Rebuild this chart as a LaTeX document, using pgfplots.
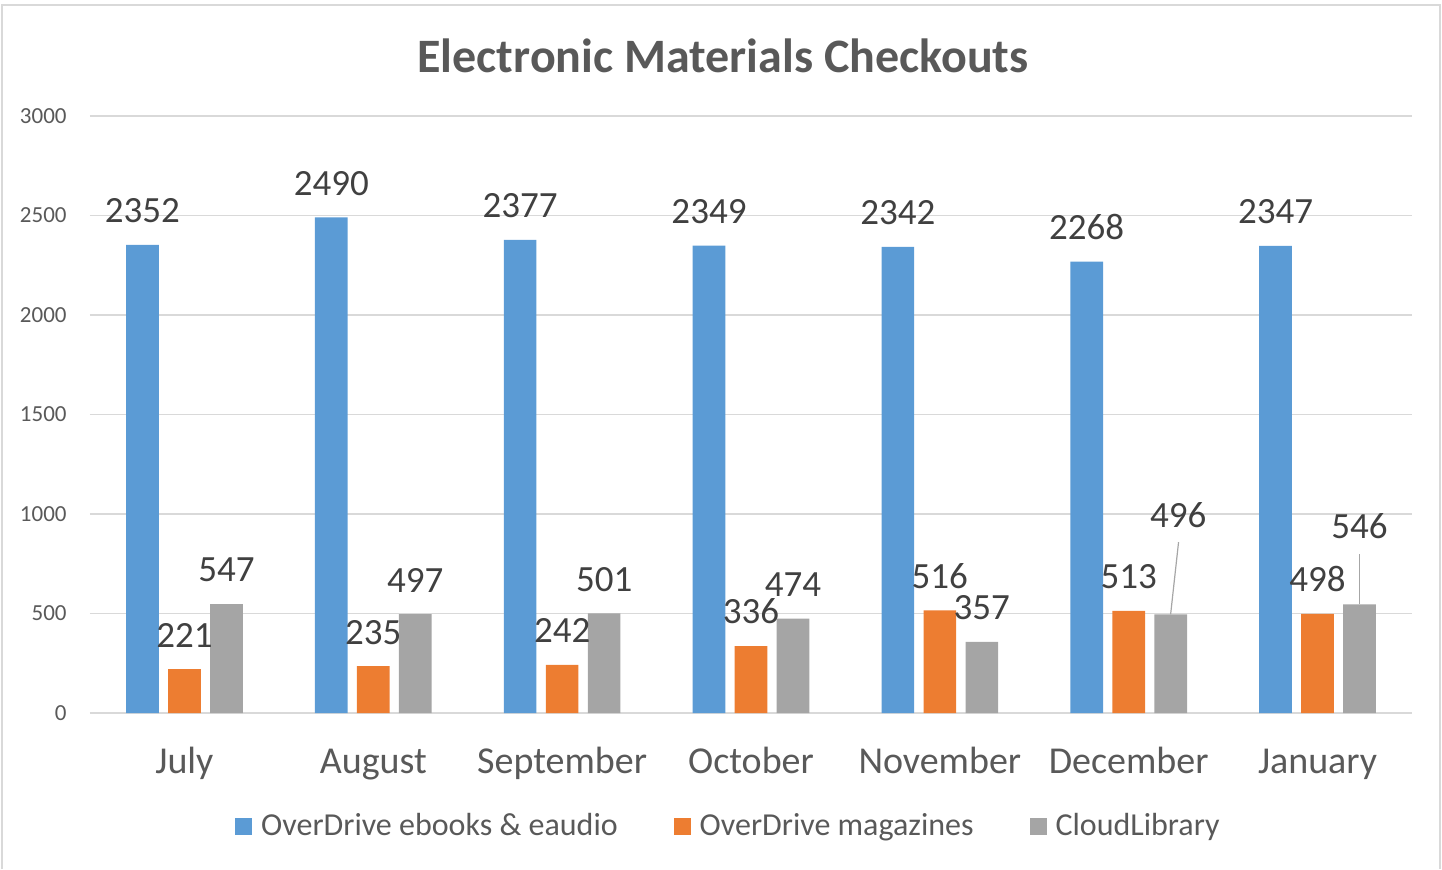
\documentclass[border=0pt]{standalone}
\usepackage{fontspec}
\setmainfont{Carlito}
\usepackage{pgfplots}
\pgfplotsset{compat=1.18}
\definecolor{cblue}{HTML}{5B9BD5}
\definecolor{corange}{HTML}{ED7D31}
\definecolor{cgray}{HTML}{A5A5A5}
\definecolor{cgrid}{HTML}{D9D9D9}
\definecolor{ctext}{HTML}{595959}
\definecolor{clabel}{HTML}{404040}
\definecolor{clead}{HTML}{A6A6A6}
\begin{document}
\begin{tikzpicture}
\useasboundingbox (0,0) rectangle (721pt,434.5pt);
\draw[cgrid, line width=0.75pt] (1pt,0) -- (1pt,432pt) -- (720pt,432pt) -- (720pt,0);
\node[anchor=base, text=ctext, font=\fontsize{24}{28}\selectfont\bfseries, inner sep=0pt] at (361.5pt,398pt) {Electronic Materials Checkouts};
\begin{axis}[
  at={(45pt,78pt)}, anchor=south west,
  scale only axis, width=661pt, height=298.5pt,
  xmin=-0.5, xmax=6.5, ymin=0, ymax=3000,
  xtick={0,...,6},
  xticklabels={July,August,September,October,November,December,January},
  ytick={0,500,...,3000},
  ymajorgrids,
  major grid style={cgrid, line width=0.75pt},
  axis line style={draw=none},
  major tick length=0pt,
  scaled y ticks=false,
  /pgf/number format/assume math mode=true,
  /pgf/number format/1000 sep={},
  yticklabel style={font=\fontsize{11.5}{14}\selectfont, text=ctext, inner sep=0pt, xshift=-11.5pt},
  xticklabel style={font=\fontsize{19}{22}\selectfont, text=ctext, inner sep=0pt, anchor=base, yshift=-30pt},
  clip=false,
  every node near coord/.append style={font=\fontsize{18.5}{22}\selectfont, text=clabel, inner sep=0pt, anchor=south, yshift=10.75pt},
  legend style={at={(0.4822,-0.1893)}, anchor=center, draw=none, fill=none,
    font=\fontsize{16}{19}\selectfont, text=ctext, nodes={inner sep=0pt},
    /tikz/every odd column/.style={column sep=4.5pt},
    /tikz/every even column/.style={column sep=28pt}},
  legend columns=3,
]
\addplot[ybar, bar width=16.35pt, bar shift=-21pt, fill=cblue, draw=none, nodes near coords,
  every node near coord/.append style={xshift=-21pt},
  legend image code/.code={\fill[cblue] (0pt,-4.25pt) rectangle (8.5pt,4.25pt);}]
  coordinates {(0,2352) (1,2490) (2,2377) (3,2349) (4,2342) (5,2268) (6,2347)};
\addlegendentry{OverDrive ebooks \& eaudio}
\addplot[ybar, bar width=16.35pt, bar shift=0pt, fill=corange, draw=none, nodes near coords,
  legend image code/.code={\fill[corange] (0pt,-4.25pt) rectangle (8.5pt,4.25pt);}]
  coordinates {(0,221) (1,235) (2,242) (3,336) (4,516) (5,513) (6,498)};
\addlegendentry{OverDrive magazines}
\addplot[ybar, bar width=16.35pt, bar shift=21pt, fill=cgray, draw=none, nodes near coords,
  every node near coord/.append style={xshift=21pt},
  point meta=explicit symbolic,
  legend image code/.code={\fill[cgray] (0pt,-4.25pt) rectangle (8.5pt,4.25pt);}]
  coordinates {(0,547) [547] (1,497) [497] (2,501) [501] (3,474) [474] (4,357) [357] (5,496) [{}] (6,546) [{}]};
\addlegendentry{CloudLibrary}
% moved labels
\addplot[draw=none, mark=none, forget plot, nodes near coords, point meta=explicit symbolic]
  coordinates {(5.262,819) [496] (6.222,764) [546]};
% leader lines
\addplot[clead, line width=0.6pt, forget plot] coordinates {(5.222,496) (5.264,859)};
\addplot[clead, line width=0.6pt, forget plot] coordinates {(6.222,546) (6.222,799)};
\end{axis}
\end{tikzpicture}
\end{document}
